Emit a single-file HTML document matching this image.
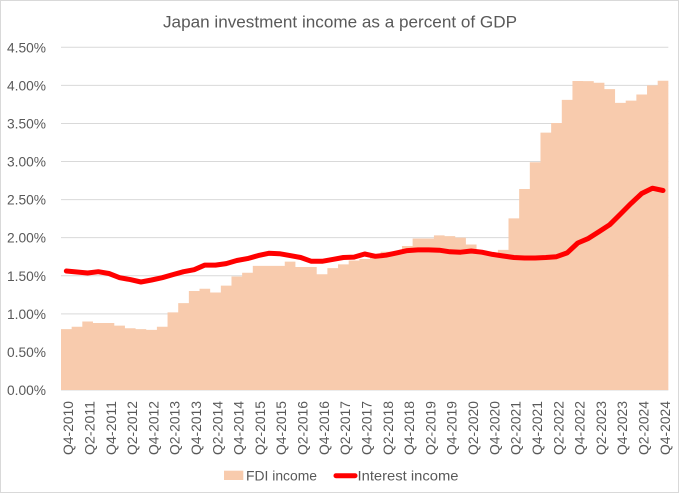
<!DOCTYPE html>
<html><head><meta charset="utf-8"><style>
html,body{margin:0;padding:0;background:#fff;}
svg{display:block;font-family:"Liberation Sans",sans-serif;}
</style></head><body>
<svg width="680" height="494" viewBox="0 0 680 494" xmlns="http://www.w3.org/2000/svg">
<rect x="0" y="0" width="680" height="494" fill="#fff"/>
<rect x="0.5" y="0.5" width="678" height="492" fill="none" stroke="#D9D9D9" stroke-width="1"/>
<text x="340" y="27.3" text-anchor="middle" font-size="17" fill="#595959" textLength="354" lengthAdjust="spacingAndGlyphs">Japan investment income as a percent of GDP</text>
<g stroke="#D9D9D9" stroke-width="1">
<line x1="61" x2="668.3" y1="390" y2="390"/>
<line x1="61" x2="668.3" y1="351.92" y2="351.92"/>
<line x1="61" x2="668.3" y1="313.84" y2="313.84"/>
<line x1="61" x2="668.3" y1="275.76" y2="275.76"/>
<line x1="61" x2="668.3" y1="237.68" y2="237.68"/>
<line x1="61" x2="668.3" y1="199.6" y2="199.6"/>
<line x1="61" x2="668.3" y1="161.52" y2="161.52"/>
<line x1="61" x2="668.3" y1="123.44" y2="123.44"/>
<line x1="61" x2="668.3" y1="85.36" y2="85.36"/>
<line x1="61" x2="668.3" y1="47.28" y2="47.28"/>
</g>
<g font-size="13.5" fill="#595959" text-anchor="end">
<text x="46" y="395" textLength="39" lengthAdjust="spacingAndGlyphs">0.00%</text>
<text x="46" y="356.9" textLength="39" lengthAdjust="spacingAndGlyphs">0.50%</text>
<text x="46" y="318.8" textLength="39" lengthAdjust="spacingAndGlyphs">1.00%</text>
<text x="46" y="280.8" textLength="39" lengthAdjust="spacingAndGlyphs">1.50%</text>
<text x="46" y="242.7" textLength="39" lengthAdjust="spacingAndGlyphs">2.00%</text>
<text x="46" y="204.6" textLength="39" lengthAdjust="spacingAndGlyphs">2.50%</text>
<text x="46" y="166.5" textLength="39" lengthAdjust="spacingAndGlyphs">3.00%</text>
<text x="46" y="128.4" textLength="39" lengthAdjust="spacingAndGlyphs">3.50%</text>
<text x="46" y="90.4" textLength="39" lengthAdjust="spacingAndGlyphs">4.00%</text>
<text x="46" y="52.3" textLength="39" lengthAdjust="spacingAndGlyphs">4.50%</text>
</g>
<path fill="#F8CBAD" d="M61,390 V329.07 H71.66 V326.79 H82.31 V321.46 H92.97 V322.98 H114.28 V325.64 H124.93 V328.31 H135.59 V329.07 H146.24 V329.83 H156.9 V326.79 H167.55 V312.32 H178.21 V303.18 H188.86 V290.99 H199.52 V288.71 H210.17 V292.52 H220.83 V285.66 H231.48 V276.52 H242.14 V272.71 H252.79 V265.86 H284.76 V261.67 H295.41 V267 H316.72 V274.24 H327.38 V268.14 H338.03 V264.34 H348.69 V260.53 H359.34 V259 H370 V256.72 H380.65 V251.77 H401.96 V246.06 H412.62 V238.44 H433.93 V235.4 H444.58 V236.16 H455.24 V237.68 H465.89 V244.53 H476.55 V252.91 H487.2 V254.44 H497.86 V249.87 H508.51 V218.33 H519.17 V188.94 H529.82 V162.28 H540.48 V132.58 H551.13 V123.06 H561.79 V99.83 H572.44 V81.02 H583.1 V81.17 H593.75 V82.69 H604.41 V89.17 H615.06 V102.88 H625.72 V100.59 H636.37 V94.5 H647.03 V85.36 H657.68 V80.79 H668.34 V390 Z"/>
<polyline fill="none" stroke="#FF0000" stroke-width="5" stroke-linejoin="round" stroke-linecap="round" points="66.33,271 76.99,271.95 87.64,273 98.3,271.7 108.95,273.5 119.61,277.7 130.26,279.6 140.92,282 151.57,280 162.23,277.7 172.88,274.6 183.54,271.7 194.19,269.7 204.85,265.1 215.5,265.1 226.16,263.6 236.81,260.5 247.47,258.6 258.12,255.6 268.78,253.3 279.43,253.7 290.09,255.6 300.74,257.5 311.4,261.3 322.05,261.3 332.71,259.4 343.36,257.5 354.02,257.1 364.67,254 375.33,256.3 385.98,255.2 396.64,252.9 407.29,250.6 417.95,249.9 428.6,249.9 439.26,250.2 449.91,251.8 460.57,252.2 471.22,251 481.88,252.2 492.53,254.4 503.19,256 513.84,257.5 524.5,258 535.15,258 545.81,257.5 556.46,256.7 567.12,252.9 577.77,243 588.43,238.4 599.08,231.6 609.74,224.7 620.39,214.1 631.05,203.4 641.7,193.5 652.36,188.2 663.01,190.5"/>
<g font-size="13.5" fill="#595959" text-anchor="end">
<text transform="translate(73.1,401) rotate(-90)" textLength="54" lengthAdjust="spacingAndGlyphs">Q4-2010</text>
<text transform="translate(94.4,401) rotate(-90)" textLength="54" lengthAdjust="spacingAndGlyphs">Q2-2011</text>
<text transform="translate(115.8,401) rotate(-90)" textLength="54" lengthAdjust="spacingAndGlyphs">Q4-2011</text>
<text transform="translate(137.1,401) rotate(-90)" textLength="54" lengthAdjust="spacingAndGlyphs">Q2-2012</text>
<text transform="translate(158.4,401) rotate(-90)" textLength="54" lengthAdjust="spacingAndGlyphs">Q4-2012</text>
<text transform="translate(179.7,401) rotate(-90)" textLength="54" lengthAdjust="spacingAndGlyphs">Q2-2013</text>
<text transform="translate(201,401) rotate(-90)" textLength="54" lengthAdjust="spacingAndGlyphs">Q4-2013</text>
<text transform="translate(222.3,401) rotate(-90)" textLength="54" lengthAdjust="spacingAndGlyphs">Q2-2014</text>
<text transform="translate(243.6,401) rotate(-90)" textLength="54" lengthAdjust="spacingAndGlyphs">Q4-2014</text>
<text transform="translate(264.9,401) rotate(-90)" textLength="54" lengthAdjust="spacingAndGlyphs">Q2-2015</text>
<text transform="translate(286.2,401) rotate(-90)" textLength="54" lengthAdjust="spacingAndGlyphs">Q4-2015</text>
<text transform="translate(307.5,401) rotate(-90)" textLength="54" lengthAdjust="spacingAndGlyphs">Q2-2016</text>
<text transform="translate(328.9,401) rotate(-90)" textLength="54" lengthAdjust="spacingAndGlyphs">Q4-2016</text>
<text transform="translate(350.2,401) rotate(-90)" textLength="54" lengthAdjust="spacingAndGlyphs">Q2-2017</text>
<text transform="translate(371.5,401) rotate(-90)" textLength="54" lengthAdjust="spacingAndGlyphs">Q4-2017</text>
<text transform="translate(392.8,401) rotate(-90)" textLength="54" lengthAdjust="spacingAndGlyphs">Q2-2018</text>
<text transform="translate(414.1,401) rotate(-90)" textLength="54" lengthAdjust="spacingAndGlyphs">Q4-2018</text>
<text transform="translate(435.4,401) rotate(-90)" textLength="54" lengthAdjust="spacingAndGlyphs">Q2-2019</text>
<text transform="translate(456.7,401) rotate(-90)" textLength="54" lengthAdjust="spacingAndGlyphs">Q4-2019</text>
<text transform="translate(478,401) rotate(-90)" textLength="54" lengthAdjust="spacingAndGlyphs">Q2-2020</text>
<text transform="translate(499.3,401) rotate(-90)" textLength="54" lengthAdjust="spacingAndGlyphs">Q4-2020</text>
<text transform="translate(520.6,401) rotate(-90)" textLength="54" lengthAdjust="spacingAndGlyphs">Q2-2021</text>
<text transform="translate(542,401) rotate(-90)" textLength="54" lengthAdjust="spacingAndGlyphs">Q4-2021</text>
<text transform="translate(563.3,401) rotate(-90)" textLength="54" lengthAdjust="spacingAndGlyphs">Q2-2022</text>
<text transform="translate(584.6,401) rotate(-90)" textLength="54" lengthAdjust="spacingAndGlyphs">Q4-2022</text>
<text transform="translate(605.9,401) rotate(-90)" textLength="54" lengthAdjust="spacingAndGlyphs">Q2-2023</text>
<text transform="translate(627.2,401) rotate(-90)" textLength="54" lengthAdjust="spacingAndGlyphs">Q4-2023</text>
<text transform="translate(648.5,401) rotate(-90)" textLength="54" lengthAdjust="spacingAndGlyphs">Q2-2024</text>
<text transform="translate(669.8,401) rotate(-90)" textLength="54" lengthAdjust="spacingAndGlyphs">Q4-2024</text>
</g>
<rect x="224" y="470.7" width="19.3" height="9.3" fill="#F8CBAD"/>
<text x="246" y="480.6" font-size="14" fill="#595959" textLength="71" lengthAdjust="spacingAndGlyphs">FDI income</text>
<line x1="336" y1="475.7" x2="355" y2="475.7" stroke="#FF0000" stroke-width="5" stroke-linecap="round"/>
<text x="357.5" y="480.6" font-size="14" fill="#595959" textLength="101" lengthAdjust="spacingAndGlyphs">Interest income</text>
</svg>
</body></html>
